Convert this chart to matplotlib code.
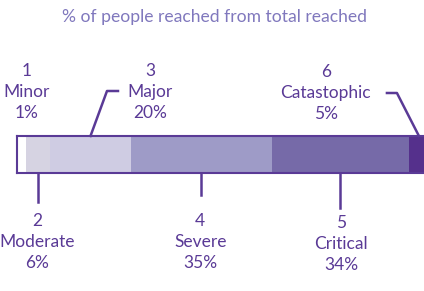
import numpy as np
import matplotlib.pyplot as plt
from matplotlib.transforms import IdentityTransform

# Data
levels = ['1', '2', '3', '4', '5', '6']
names = ['Minor', 'Moderate', 'Major', 'Severe', 'Critical', 'Catastophic']
shares = [1, 6, 20, 35, 34, 5]  # % of people reached
colors = ['#ffffff', '#d6d3e2', '#cfcce3', '#9e9bc7', '#766aa8', '#55308c']

purple = '#5a3a96'
plt.rcParams['font.family'] = ['Lato', 'DejaVu Sans']

W, H = 424, 291
fig = plt.figure(figsize=(W / 100, H / 100), dpi=100)

# bar axes: left edge at 16px, top 136px, bottom 173px; runs past the right edge
ppu = 4.03  # pixels per percent
x0 = -1.36
x1 = 102
ax = fig.add_axes([16.5 / W, 1 - 173 / H, (x1 - x0) * ppu / W, 37 / H])
left = np.concatenate([[0], np.cumsum(shares)[:-1]])
ax.barh(0.5, shares, left=left, height=1, color=colors, linewidth=0)
ax.set_xlim(x0, x1)
ax.set_ylim(0, 1)
ax.set_xticks([])
ax.set_yticks([])
for s in ax.spines.values():
    s.set_color(purple)
    s.set_linewidth(1.5)

fig.text(214 / W, 1 - 17 / H, '% of people reached from total reached',
         ha='center', va='center', color='#8078bd', fontsize=12.6)

# label offsets (pixels, up positive) from the bar edge at each segment centre
above = [True, False, True, False, False, True]
text_off = [(3, 44), (-1, -69), (59.5, 44), (-1, -69), (1, -71), (-93, 43)]
leaders = [None,
           [(0, 0), (0, -29)],
           [(0, 0), (16.5, 45), (27.5, 45)],
           [(0, 0), (0, -22)],
           [(0, 0), (0, -35)],
           [(0, 0), (-22, 43), (-32, 43)]]

fig.canvas.draw()
for i in range(len(shares)):
    cx = left[i] + shares[i] / 2
    px, py = ax.transData.transform((cx, 1 if above[i] else 0))
    if leaders[i] is not None:
        pts = np.array(leaders[i], dtype=float)
        fig.add_artist(plt.Line2D(px + pts[:, 0], py + pts[:, 1],
                                  transform=IdentityTransform(),
                                  color=purple, linewidth=1.8))
    dx, dy = text_off[i]
    fig.text((px + dx) / W, (py + dy) / H,
             f'{levels[i]}\n{names[i]}\n{shares[i]}%',
             ha='center', va='center', ma='center', color=purple,
             fontsize=12.5, linespacing=1.4)

fig.savefig('out.png', dpi=100)
